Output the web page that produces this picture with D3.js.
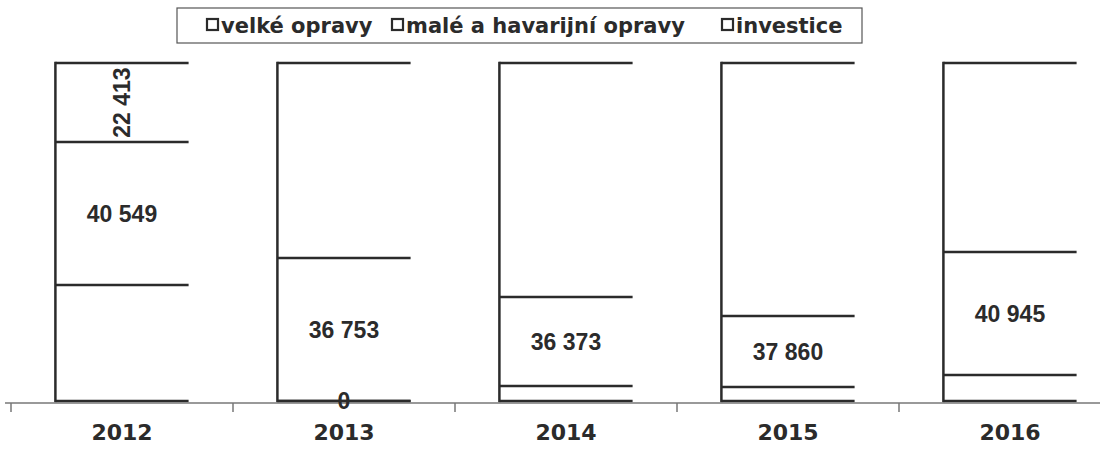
<!DOCTYPE html>
<html>
<head>
<meta charset="utf-8">
<script src="https://cdn.jsdelivr.net/npm/d3@7"></script>
<style>
body { margin: 0; background: #fff; }
</style>
</head>
<body>
<script>
var years = ["2012", "2013", "2014", "2015", "2016"];
var series = ["velké opravy", "malé a havarijní opravy", "investice"];
var velkeOpravy = [32900, 0, 6130, 7465, 8655];
var maleOpravy = [40549, 36753, 36373, 37860, 40945];
var investice = [22413, 50118, 95632, 134908, 62916];
// which segments carry a value label in the picture
var labelMale = [true, true, true, true, true];
var labelVelke = [false, true, false, false, false];
var labelInvestice = [true, false, false, false, false];

var width = 1106, height = 450;
var ink = "#2b2b2b";

var rows = years.map(function(y, i) {
  return { year: y, v: velkeOpravy[i], m: maleOpravy[i], inv: investice[i] };
});

var svg = d3.select("body").append("svg")
  .attr("width", width)
  .attr("height", height);

var x = d3.scaleBand().domain(years).range([11, 1121]).paddingInner(0.4).paddingOuter(0.2);
var y = d3.scaleLinear().domain([0, 1]).range([401, 63]);

var stack = d3.stack().keys(["v", "m", "inv"]).offset(d3.stackOffsetExpand);
var layers = stack(rows);
var segs = [];
layers.forEach(function(layer) {
  layer.forEach(function(d) { segs.push({ key: layer.key, year: d.data.year, y0: d[0], y1: d[1] }); });
});

var g = svg.append("g");

// top edge of each segment
g.selectAll("line.top").data(segs).enter()
  .append("line")
  .attr("class", "top")
  .attr("x1", function(d) { return x(d.year); })
  .attr("x2", function(d) { return x(d.year) + x.bandwidth(); })
  .attr("y1", function(d) { return y(d.y1); })
  .attr("y2", function(d) { return y(d.y1); })
  .attr("stroke", ink)
  .attr("stroke-width", 2.5);

// bottom of each bar
g.selectAll("line.bottom").data(years).enter()
  .append("line")
  .attr("class", "bottom")
  .attr("x1", function(d) { return x(d); })
  .attr("x2", function(d) { return x(d) + x.bandwidth(); })
  .attr("y1", y(0)).attr("y2", y(0))
  .attr("stroke", ink)
  .attr("stroke-width", 2.5);

// left edge of each bar
g.selectAll("line.left").data(years).enter()
  .append("line")
  .attr("class", "left")
  .attr("x1", function(d) { return x(d); })
  .attr("x2", function(d) { return x(d); })
  .attr("y1", y(0) + 1.25).attr("y2", y(1) - 1.25)
  .attr("stroke", ink)
  .attr("stroke-width", 2.5);

// category axis
svg.append("line")
  .attr("x1", 5).attr("x2", 1100)
  .attr("y1", 403).attr("y2", 403)
  .attr("stroke", "#777")
  .attr("stroke-width", 1.5);

var bounds = d3.range(years.length).map(function(i) { return 11 + i * x.step(); });
svg.selectAll("line.tick").data(bounds).enter()
  .append("line")
  .attr("class", "tick")
  .attr("x1", function(d) { return d; }).attr("x2", function(d) { return d; })
  .attr("y1", 403).attr("y2", 412)
  .attr("stroke", "#777")
  .attr("stroke-width", 1.5);

svg.selectAll("text.year").data(years).enter()
  .append("text")
  .attr("class", "year")
  .attr("x", function(d) { return x(d) + x.bandwidth() / 2; })
  .attr("y", 440)
  .attr("text-anchor", "middle")
  .attr("font-family", "DejaVu Sans, sans-serif")
  .attr("font-weight", "bold")
  .attr("font-size", "22px")
  .attr("fill", ink)
  .text(function(d) { return d; });

// value labels
var fmt = function(v) { return d3.format(",")(v).replace(/,/g, " "); };
var lookup = { v: velkeOpravy, m: maleOpravy, inv: investice };
function addLabels(key, flags, rotate) {
  var data = segs.filter(function(d) { return d.key === key && flags[years.indexOf(d.year)]; });
  svg.selectAll(null).data(data).enter()
    .append("text")
    .attr("transform", function(d) {
      var cx = x(d.year) + x.bandwidth() / 2;
      var cy = (y(d.y0) + y(d.y1)) / 2;
      return "translate(" + cx + "," + cy + ")" + (rotate ? " rotate(-90)" : "");
    })
    .attr("dy", "0.36em")
    .attr("text-anchor", "middle")
    .attr("font-family", "Liberation Sans, Arial, sans-serif")
    .attr("font-weight", "bold")
    .attr("font-size", "23px")
    .attr("fill", ink)
    .text(function(d) { return fmt(lookup[key][years.indexOf(d.year)]); });
}
addLabels("m", labelMale, false);
addLabels("v", labelVelke, false);
addLabels("inv", labelInvestice, true);

// legend
var legend = svg.append("g");
legend.append("rect")
  .attr("x", 177).attr("y", 8)
  .attr("width", 685).attr("height", 35)
  .attr("fill", "#fff")
  .attr("stroke", "#555")
  .attr("stroke-width", 1.2);

var lx = [207, 392, 722];
series.forEach(function(s, i) {
  legend.append("rect")
    .attr("x", lx[i]).attr("y", 19)
    .attr("width", 11).attr("height", 11)
    .attr("fill", "#fff")
    .attr("stroke", ink)
    .attr("stroke-width", 2.2);
  legend.append("text")
    .attr("x", lx[i] + 14).attr("y", 33)
    .attr("font-family", "DejaVu Sans, sans-serif")
    .attr("font-weight", "bold")
    .attr("font-size", "21px")
    .attr("fill", ink)
    .text(s);
});
</script>
</body>
</html>
